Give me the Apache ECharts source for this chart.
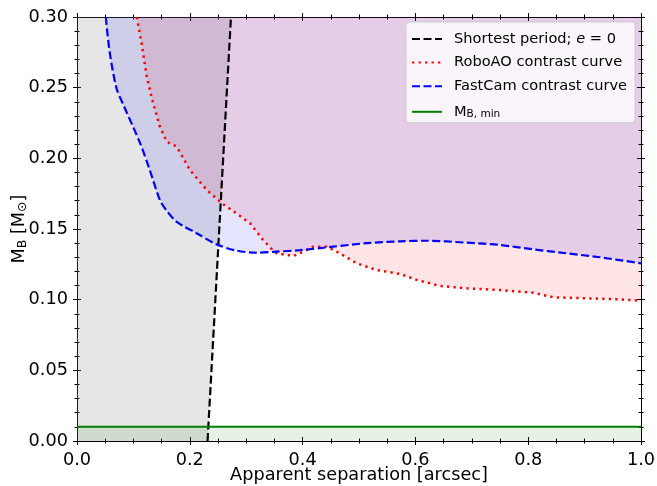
<!DOCTYPE html>
<html>
<head>
<meta charset="utf-8">
<script src="https://cdn.jsdelivr.net/npm/echarts@6/dist/echarts.min.js"></script>
<style>
html, body { margin: 0; padding: 0; background: #ffffff; }
#chart { width: 657px; height: 486px; }
</style>
</head>
<body>
<div id="chart"></div>
<script>
// Shortest orbital period (circular orbit): separation reached at each companion mass
const periodSep = [0.2315, 0.273];
const periodMass = [0.00, 0.30];

// RoboAO contrast curve (mass limit vs separation)
const roboSep = [0.106, 0.1145, 0.1235, 0.135, 0.147, 0.159, 0.177, 0.200, 0.230, 0.2565,
  0.283, 0.3067, 0.330, 0.348, 0.354, 0.3835, 0.395, 0.419, 0.4427, 0.466, 0.496, 0.531,
  0.573, 0.602, 0.6436, 0.691, 0.750, 0.809, 0.8445, 0.8977, 0.957, 1.000];
const roboMass = [0.300, 0.2814, 0.2578, 0.239, 0.2224, 0.2118, 0.2082, 0.1917, 0.1776, 0.1682,
  0.161, 0.154, 0.1422, 0.1347, 0.1328, 0.1309, 0.1328, 0.1375, 0.1375, 0.1328, 0.1257, 0.121,
  0.1182, 0.114, 0.1097, 0.108, 0.1068, 0.1049, 0.1017, 0.101, 0.1003, 0.0993];

// FastCam contrast curve
const fastSep = [0.051, 0.058, 0.070, 0.082, 0.112, 0.129, 0.147, 0.159, 0.177, 0.212, 0.248,
  0.283, 0.319, 0.354, 0.395, 0.454, 0.514, 0.573, 0.620, 0.691, 0.750, 0.809, 0.868,
  0.927, 1.000];
const fastMass = [0.300, 0.275, 0.2496, 0.238, 0.2106, 0.1917, 0.1705, 0.163, 0.155, 0.147, 0.139,
  0.1347, 0.1332, 0.134, 0.135, 0.1375, 0.140, 0.1413, 0.1417, 0.1403, 0.1387, 0.1356, 0.1328,
  0.130, 0.1257];

// Minimum companion mass
const massMin = 0.01;

// Axis ranges and tick spacing
const sepLimits = [0.0, 1.0];
const massLimits = [0.00, 0.30];
const sepStep = 0.2;
const massStep = 0.05;

const legendNames = ['Shortest period; e = 0', 'RoboAO contrast curve', 'FastCam contrast curve', 'M_B,min'];

const zip = (xs, ys) => xs.map((x, i) => [x, ys[i]]);

const FONT = 'DejaVu Sans';
const AXIS_FS = 17.7;

const periodLine = zip(periodSep, periodMass);
// region to the left of the period limit, filled up to the top of the axis
const periodFill = [[sepLimits[0], massLimits[0]]].concat(periodLine);
const minLine = [[sepLimits[0], massMin], [sepLimits[1], massMin]];

function fill(data, color, origin, smooth) {
  return {
    type: 'line', data: data, symbol: 'none', silent: true, z: 1, smooth: smooth || false,
    lineStyle: { width: 0, opacity: 0 },
    areaStyle: { origin: origin, color: color, opacity: 1 },
    animation: false
  };
}

function curve(name, data, color, width, dash, smooth) {
  return {
    type: 'line', name: name, data: data, symbol: 'none', showSymbol: false, z: 3,
    smooth: smooth || false,
    lineStyle: { color: color, width: width, type: dash, cap: 'butt' },
    itemStyle: { color: color },
    animation: false
  };
}

function xAx(pos, inside, labels) {
  return {
    type: 'value', position: pos, min: sepLimits[0], max: sepLimits[1], interval: sepStep,
    axisLine: { show: true, onZero: false, lineStyle: { color: '#000', width: 1 } },
    axisTick: { show: true, inside: inside, length: 4, lineStyle: { color: '#000', width: 1 } },
    minorTick: { show: true, splitNumber: 4, length: 2.5, lineStyle: { color: '#000', width: 1 } },
    splitLine: { show: false },
    axisLabel: labels ? {
      show: true, margin: 10, color: '#000', fontFamily: FONT, fontSize: AXIS_FS,
      formatter: v => v.toFixed(1)
    } : { show: false },
    name: labels ? 'Apparent separation [arcsec]' : '',
    nameLocation: 'middle', nameGap: 25, nameMoveOverlap: false,
    nameTextStyle: { color: '#000', fontFamily: FONT, fontSize: AXIS_FS }
  };
}

function yAx(pos, inside, labels) {
  return {
    type: 'value', position: pos, min: massLimits[0], max: massLimits[1], interval: massStep,
    axisLine: { show: true, onZero: false, lineStyle: { color: '#000', width: 1 } },
    axisTick: { show: true, inside: inside, length: 4, lineStyle: { color: '#000', width: 1 } },
    minorTick: { show: true, splitNumber: 5, length: 2.5, lineStyle: { color: '#000', width: 1 } },
    splitLine: { show: false },
    axisLabel: labels ? {
      show: true, margin: 9, color: '#000', fontFamily: FONT, fontSize: AXIS_FS,
      formatter: v => v.toFixed(2)
    } : { show: false },
    name: labels ? '{m|M}{s|B} [{m|M}{s|\u2299}]' : '',
    nameLocation: 'middle', nameGap: 48, nameRotate: 90, nameMoveOverlap: false,
    nameTextStyle: {
      color: '#000', fontFamily: FONT, fontSize: AXIS_FS,
      rich: {
        m: { fontFamily: FONT, fontSize: AXIS_FS, color: '#000', lineHeight: 20 },
        s: { fontFamily: FONT, fontSize: 12.5, color: '#000', lineHeight: 12, padding: [8, 0, 0, 0], verticalAlign: 'bottom' }
      }
    }
  };
}

const chart = echarts.init(document.getElementById('chart'), null, { renderer: 'canvas' });

chart.setOption({
  animation: false,
  backgroundColor: '#ffffff',
  grid: { left: 77, right: 16, top: 17, bottom: 45, containLabel: false, outerBoundsMode: 'none' },
  xAxis: [xAx('bottom', false, true), xAx('bottom', true, false), xAx('top', false, false), xAx('top', true, false)],
  yAxis: [yAx('left', false, true), yAx('left', true, false), yAx('right', false, false), yAx('right', true, false)],
  legend: {
    data: legendNames,
    orient: 'vertical', left: 406, top: 22,
    itemWidth: 30, itemHeight: 10, itemGap: 7.6,
    padding: [9, 8, 3, 5],
    backgroundColor: 'rgba(255,255,255,0.8)',
    borderColor: '#cccccc', borderWidth: 1, borderRadius: 3,
    selectedMode: false,
    itemStyle: { opacity: 0 },
    textStyle: {
      fontFamily: FONT, fontSize: 14.6, color: '#000', padding: [0, 0, 0, 7], lineHeight: 16,
      rich: {
        i: { fontFamily: FONT, fontStyle: 'italic', fontSize: 14.6, color: '#000', lineHeight: 16 },
        m: { fontFamily: FONT, fontSize: 14.6, color: '#000', lineHeight: 16 },
        s: { fontFamily: FONT, fontSize: 10.5, color: '#000', lineHeight: 9, padding: [7, 0, 0, 0], verticalAlign: 'bottom' }
      }
    },
    formatter: function (name) {
      if (name === legendNames[0]) return 'Shortest period; {i|e} = 0';
      if (name === legendNames[3]) return '{m|M}{s|B, min}';
      return name;
    }
  },
  series: [
    fill(periodFill, 'rgba(128,128,128,0.2)', 'end'),
    fill(zip(roboSep, roboMass), 'rgba(255,0,0,0.1)', 'end'),
    fill(zip(fastSep, fastMass), 'rgba(0,0,255,0.1)', 'end', 0.3),
    fill(minLine, 'rgba(0,128,0,0.1)', 'start'),
    curve(legendNames[0], periodLine, '#000000', 2.2, [8, 3.5]),
    curve(legendNames[1], zip(roboSep, roboMass), '#ff0000', 2.5, [2.3, 4.2]),
    curve(legendNames[2], zip(fastSep, fastMass), '#0000ff', 2.2, [8, 3.5], 0.3),
    curve(legendNames[3], minLine, '#008000', 2, 'solid')
  ]
});
</script>
</body>
</html>
